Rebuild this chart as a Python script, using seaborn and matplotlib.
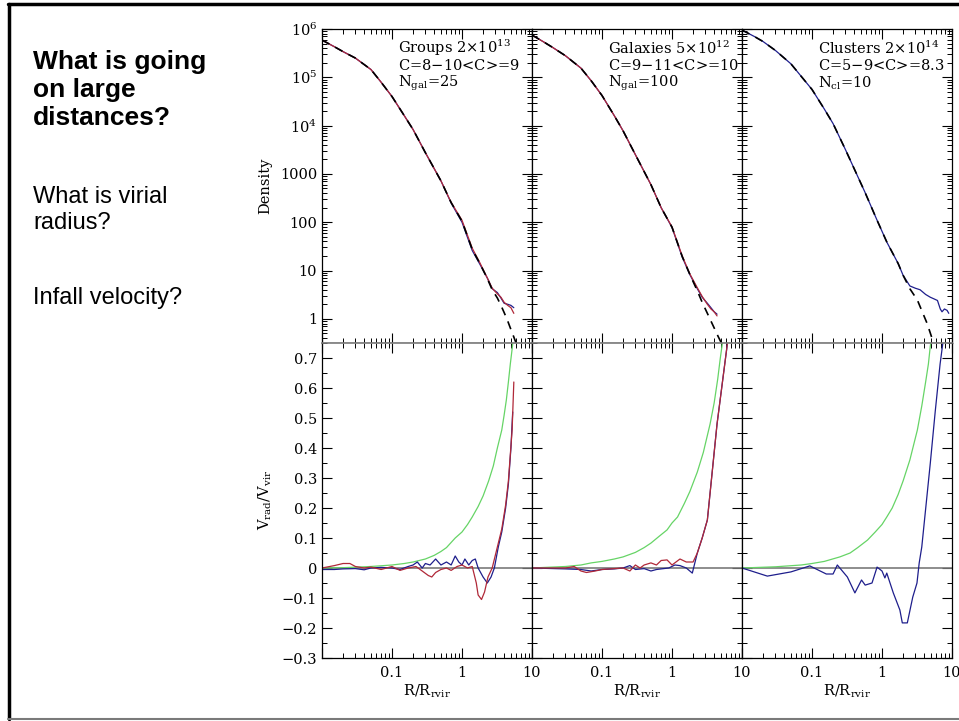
import numpy as np
import pandas as pd
import matplotlib
matplotlib.use("Agg")
import matplotlib.pyplot as plt
import seaborn as sns
from matplotlib.ticker import LogLocator, FixedLocator, FuncFormatter, MultipleLocator, NullFormatter
from matplotlib.lines import Line2D

# ---------------- data ----------------
panel_titles = ["Groups 2$\\times$10$^{13}$", "Galaxies 5$\\times$10$^{12}$", "Clusters 2$\\times$10$^{14}$"]
panel_conc = ["C=8$-$10<C>=9", "C=9$-$11<C>=10", "C=5$-$9<C>=8.3"]
panel_n = ["N$_{\\rm gal}$=25", "N$_{\\rm gal}$=100", "N$_{\\rm cl}$=10"]

# top row: density profiles
g_den_x = [0.01, 0.015, 0.02, 0.03, 0.05, 0.07, 0.1, 0.15, 0.2, 0.3, 0.5, 0.7, 1.0, 1.4, 1.8, 2.3, 2.7, 3.2, 3.6, 4.0, 4.5, 5.0, 5.5]
g_den_red = [5.9e5, 4.3e5, 3.4e5, 2.5e5, 1.45e5, 7.9e4, 4.0e4, 1.6e4, 8.3e3, 2.75e3, 720, 257, 110, 29, 14.5, 7.0, 4.3, 3.3, 2.8, 2.2, 1.9, 1.7, 1.3]
g_den_blue = [5.9e5, 4.3e5, 3.4e5, 2.5e5, 1.45e5, 7.9e4, 4.0e4, 1.6e4, 8.3e3, 2.75e3, 720, 250, 100, 26, 13.5, 7.0, 4.2, 3.5, 2.7, 2.1, 2.0, 1.9, 1.7]
g_nfw_x = [0.01, 0.015, 0.02, 0.03, 0.05, 0.07, 0.1, 0.15, 0.2, 0.3, 0.5, 0.7, 1.0, 1.4, 1.8, 2.3, 2.7, 3.2, 3.6, 4.0, 4.5, 5.0, 5.5, 6.0, 6.5]
g_nfw = [5.9e5, 4.3e5, 3.4e5, 2.5e5, 1.45e5, 7.9e4, 4.0e4, 1.6e4, 8.3e3, 2.75e3, 720, 255, 105, 27.5, 14, 6.8, 4.0, 2.7, 1.9, 1.35, 0.9, 0.6, 0.42, 0.3, 0.22]

s_den_x = [0.01, 0.015, 0.02, 0.03, 0.05, 0.07, 0.1, 0.15, 0.2, 0.3, 0.5, 0.7, 1.0, 1.4, 1.8, 2.3, 2.7, 3.2, 3.6, 4.0, 4.4]
s_den_red = [7.5e5, 5.3e5, 4.1e5, 2.8e5, 1.55e5, 8.5e4, 4.2e4, 1.6e4, 7.8e3, 2.5e3, 600, 200, 80, 20, 8.5, 4.4, 2.9, 2.0, 1.6, 1.4, 1.15]
s_den_blue = [7.5e5, 5.3e5, 4.1e5, 2.8e5, 1.55e5, 8.5e4, 4.2e4, 1.6e4, 7.8e3, 2.5e3, 600, 200, 78, 19, 8.2, 4.2, 2.8, 2.1, 1.7, 1.4, 1.25]
s_nfw_x = [0.01, 0.015, 0.02, 0.03, 0.05, 0.07, 0.1, 0.15, 0.2, 0.3, 0.5, 0.7, 1.0, 1.4, 1.8, 2.3, 2.7, 3.2, 3.6, 4.0, 4.5, 5.0, 5.5, 6.0]
s_nfw = [7.5e5, 5.3e5, 4.1e5, 2.8e5, 1.55e5, 8.5e4, 4.2e4, 1.6e4, 7.8e3, 2.5e3, 600, 200, 79, 19.5, 8.3, 3.8, 2.2, 1.3, 0.9, 0.65, 0.45, 0.33, 0.25, 0.19]

c_den_x = [0.01, 0.015, 0.02, 0.03, 0.05, 0.07, 0.1, 0.15, 0.2, 0.3, 0.57, 0.85, 1.18, 1.7, 2.0, 2.5, 3.0, 3.5, 4.2, 4.9, 5.5, 6.2, 6.8, 7.2, 7.8, 8.5, 9.0]
c_den_blue = [9.5e5, 7.0e5, 5.5e5, 3.6e5, 1.9e5, 1.05e5, 5.6e4, 2.2e4, 1.1e4, 3.2e3, 420, 110, 38, 14, 8.0, 4.8, 4.3, 4.0, 3.2, 2.8, 2.6, 2.4, 1.6, 1.4, 1.6, 1.5, 1.3]
c_nfw_x = [0.01, 0.015, 0.02, 0.03, 0.05, 0.07, 0.1, 0.15, 0.2, 0.3, 0.57, 0.85, 1.18, 1.7, 2.0, 2.5, 3.2, 4.4, 5.3, 5.8]
c_nfw = [9.5e5, 7.0e5, 5.5e5, 3.6e5, 1.9e5, 1.05e5, 5.6e4, 2.2e4, 1.1e4, 3.2e3, 420, 110, 38, 14, 8.0, 4.2, 2.45, 0.81, 0.36, 0.25]

# bottom row: radial velocity profiles
g_hub_x = [0.01, 0.02, 0.05, 0.1, 0.15, 0.2, 0.3, 0.4, 0.5, 0.6, 0.8, 1.0, 1.2, 1.4, 1.7, 2.0, 2.4, 2.8, 3.2, 3.7, 4.0, 4.3, 4.6, 4.9, 5.2, 5.5]
g_hub = [0.0, 0.001, 0.005, 0.01, 0.015, 0.02, 0.03, 0.042, 0.055, 0.068, 0.10, 0.12, 0.145, 0.17, 0.205, 0.24, 0.29, 0.34, 0.40, 0.46, 0.51, 0.56, 0.62, 0.68, 0.73, 0.78]
g_vel_red_x = [0.01, 0.015, 0.02, 0.025, 0.03, 0.04, 0.05, 0.07, 0.1, 0.13, 0.17, 0.22, 0.27, 0.33, 0.37, 0.42, 0.5, 0.6, 0.7, 0.85, 1.0, 1.2, 1.4, 1.6, 1.7, 1.9, 2.1, 2.35, 2.7, 3.2, 3.7, 4.2, 4.6, 5.2, 5.5]
g_vel_red = [0.0, 0.008, 0.015, 0.015, 0.005, 0.0, 0.003, -0.005, 0.005, -0.008, 0.0, 0.005, -0.01, -0.025, -0.03, -0.015, -0.005, 0.0, -0.008, 0.005, 0.01, 0.0, 0.005, -0.05, -0.09, -0.105, -0.08, -0.03, 0.0, 0.07, 0.13, 0.21, 0.29, 0.46, 0.62]
g_vel_blue_x = [0.01, 0.015, 0.02, 0.03, 0.04, 0.05, 0.07, 0.1, 0.13, 0.17, 0.2, 0.23, 0.27, 0.3, 0.35, 0.42, 0.5, 0.6, 0.7, 0.8, 0.9, 1.0, 1.1, 1.25, 1.4, 1.55, 1.7, 2.0, 2.3, 2.6, 2.9, 3.3, 3.7, 4.2, 4.6, 5.0, 5.3]
g_vel_blue = [-0.005, -0.005, -0.003, -0.002, -0.006, 0.0, 0.002, 0.0, -0.005, 0.005, 0.01, 0.02, 0.0, 0.015, 0.01, 0.03, 0.01, 0.02, 0.01, 0.04, 0.02, 0.01, 0.03, 0.01, 0.025, 0.03, 0.0, -0.03, -0.05, -0.03, 0.0, 0.07, 0.12, 0.2, 0.28, 0.4, 0.52]

s_hub_x = [0.01, 0.03, 0.05, 0.07, 0.1, 0.15, 0.2, 0.3, 0.4, 0.5, 0.65, 0.85, 1.0, 1.2, 1.5, 1.8, 2.3, 2.8, 3.5, 4.0, 4.5, 4.9, 5.4]
s_hub = [0.0, 0.005, 0.01, 0.017, 0.022, 0.03, 0.037, 0.052, 0.068, 0.083, 0.105, 0.127, 0.15, 0.17, 0.215, 0.255, 0.32, 0.385, 0.48, 0.55, 0.63, 0.70, 0.77]
s_vel_red_x = [0.01, 0.03, 0.04, 0.05, 0.06, 0.08, 0.1, 0.15, 0.2, 0.25, 0.3, 0.35, 0.4, 0.5, 0.6, 0.7, 0.85, 1.0, 1.3, 1.6, 2.0, 2.3, 2.7, 3.2, 4.4, 6.2]
s_vel_red = [0.0, 0.0, 0.005, -0.01, -0.015, -0.01, -0.005, -0.002, 0.0, -0.01, 0.01, 0.0, 0.01, 0.017, 0.01, 0.025, 0.027, 0.01, 0.03, 0.02, 0.02, 0.05, 0.10, 0.16, 0.48, 0.75]
s_vel_blue_x = [0.01, 0.03, 0.05, 0.07, 0.1, 0.15, 0.2, 0.25, 0.3, 0.4, 0.5, 0.6, 0.7, 0.9, 1.1, 1.3, 1.6, 1.95, 2.3, 2.7, 3.2, 4.4, 6.2]
s_vel_blue = [0.0, -0.003, -0.005, -0.01, -0.005, -0.003, 0.0, 0.008, -0.005, -0.002, -0.01, -0.005, -0.003, 0.0, 0.01, 0.008, 0.0, -0.017, 0.05, 0.10, 0.16, 0.48, 0.75]

c_hub_x = [0.01, 0.03, 0.07, 0.1, 0.15, 0.25, 0.35, 0.45, 0.62, 0.8, 1.0, 1.17, 1.4, 1.7, 2.0, 2.5, 3.2, 3.7, 4.2, 4.6, 4.9, 5.3]
c_hub = [0.0, 0.004, 0.01, 0.015, 0.022, 0.037, 0.05, 0.068, 0.093, 0.12, 0.145, 0.17, 0.20, 0.245, 0.29, 0.36, 0.46, 0.54, 0.62, 0.68, 0.74, 0.80]
c_vel_blue_x = [0.01, 0.023, 0.05, 0.093, 0.16, 0.2, 0.23, 0.32, 0.41, 0.51, 0.575, 0.72, 0.85, 1.0, 1.1, 1.17, 1.45, 1.8, 1.95, 2.3, 2.75, 3.16, 3.4, 3.7, 4.9, 5.75, 6.76, 7.4, 8.0]
c_vel_blue = [0.0, -0.027, -0.013, 0.007, -0.02, -0.02, 0.01, -0.03, -0.083, -0.04, -0.057, -0.05, 0.003, -0.01, -0.033, -0.017, -0.083, -0.14, -0.183, -0.183, -0.097, -0.05, 0.017, 0.07, 0.35, 0.52, 0.68, 0.75, 0.85]

den_ticks = [1, 10, 100, 1000, 1e4, 1e5, 1e6]
den_ticklabels = ["1", "10", "100", "1000", "10$^4$", "10$^5$", "10$^6$"]
r_ticks = [0.01, 0.1, 1, 10]
r_ticklabels = ["", "0.1", "1", "10"]

# ---------------- styling ----------------
sns.set_style("ticks")
plt.rcParams["font.family"] = ["DejaVu Serif"]
plt.rcParams["mathtext.fontset"] = "dejavuserif"
plt.rcParams["text.color"] = "black"
plt.rcParams["axes.labelcolor"] = "black"
plt.rcParams["xtick.color"] = "black"
plt.rcParams["ytick.color"] = "black"
plt.rcParams["axes.edgecolor"] = "black"

RED = "#b02838"
BLUE = "#1e1e8c"
GREEN = "#66d466"
GREY = "#7a7a7a"

W, H = 959, 721
fig = plt.figure(figsize=(W / 100, H / 100), dpi=100)
fig.patch.set_facecolor("white")

def fx(px):
    return px / W

def fy(py):
    return 1 - py / H

lefts = [322, 532, 742]
pw = 210
top_y0, top_y1 = 29, 343
bot_y0, bot_y1 = 343, 658

top_data = [
    [(g_den_x, g_den_blue, BLUE), (g_den_x, g_den_red, RED)],
    [(s_den_x, s_den_blue, BLUE), (s_den_x, s_den_red, RED)],
    [(c_den_x, c_den_blue, BLUE)],
]
top_nfw = [(g_nfw_x, g_nfw), (s_nfw_x, s_nfw), (c_nfw_x, c_nfw)]
bot_data = [
    [(g_vel_blue_x, g_vel_blue, BLUE), (g_vel_red_x, g_vel_red, RED)],
    [(s_vel_blue_x, s_vel_blue, BLUE), (s_vel_red_x, s_vel_red, RED)],
    [(c_vel_blue_x, c_vel_blue, BLUE)],
]
bot_hub = [(g_hub_x, g_hub), (s_hub_x, s_hub), (c_hub_x, c_hub)]

tick_kw = dict(direction="in", top=True, right=True, colors="black", labelsize=10.5)

def style_x(ax, labels):
    ax.set_xscale("log")
    ax.set_xlim(0.01, 10)
    ax.xaxis.set_major_locator(FixedLocator(r_ticks))
    ax.xaxis.set_minor_locator(LogLocator(base=10, subs=np.arange(2, 10), numticks=100))
    ax.xaxis.set_minor_formatter(NullFormatter())
    if labels:
        ax.xaxis.set_major_formatter(FuncFormatter(lambda v, p: r_ticklabels[r_ticks.index(v)] if v in r_ticks else ""))
    else:
        ax.set_xticklabels([])

for i in range(3):
    # ---- top: density ----
    ax = fig.add_axes([fx(lefts[i]), fy(top_y1), pw / W, (top_y1 - top_y0) / H])
    style_x(ax, False)
    ax.set_yscale("log")
    ax.set_ylim(10 ** -0.5, 1e6)
    for xs, ys, col in top_data[i]:
        sns.lineplot(x=xs, y=ys, ax=ax, color=col, lw=0.9, estimator=None, sort=False)
    nx, ny = top_nfw[i]
    sns.lineplot(x=nx, y=ny, ax=ax, color="black", lw=1.2, linestyle=(0, (5, 4)), estimator=None, sort=False)
    ax.yaxis.set_major_locator(FixedLocator(den_ticks))
    ax.yaxis.set_minor_locator(LogLocator(base=10, subs=np.arange(2, 10), numticks=100))
    ax.yaxis.set_minor_formatter(NullFormatter())
    if i == 0:
        ax.set_yticks(den_ticks, den_ticklabels)
    else:
        ax.set_yticklabels([])
    ax.tick_params(which="major", length=7, width=0.8, **tick_kw)
    ax.tick_params(which="minor", length=3.5, width=0.7, direction="in", top=True, right=True)
    for s in ax.spines.values():
        s.set_linewidth(0.9)
    ax.set_xlabel("")
    ax.set_ylabel("")
    # annotation
    tx = lefts[i] + 76
    fig.text(fx(tx), fy(48), panel_titles[i], fontsize=10.5, va="center", ha="left")
    fig.text(fx(tx), fy(66), panel_conc[i], fontsize=10.5, va="center", ha="left")
    fig.text(fx(tx), fy(83), panel_n[i], fontsize=10.5, va="center", ha="left")

    # ---- bottom: velocity ----
    axb = fig.add_axes([fx(lefts[i]), fy(bot_y1), pw / W, (bot_y1 - bot_y0) / H])
    style_x(axb, True)
    axb.set_ylim(-0.3, 0.75)
    axb.axhline(0, color=GREY, lw=1.2, zorder=1)
    hx, hy = bot_hub[i]
    sns.lineplot(x=hx, y=hy, ax=axb, color=GREEN, lw=0.9, estimator=None, sort=False)
    for xs, ys, col in bot_data[i]:
        sns.lineplot(x=xs, y=ys, ax=axb, color=col, lw=0.9, estimator=None, sort=False)
    axb.yaxis.set_major_locator(MultipleLocator(0.1))
    axb.yaxis.set_minor_locator(MultipleLocator(0.05))
    if i == 0:
        axb.yaxis.set_major_formatter(FuncFormatter(
            lambda v, p: "0" if abs(v) < 1e-9 else ("%.1f" % v).replace("-", "\u2212")))
    else:
        axb.set_yticklabels([])
    axb.tick_params(which="major", length=7, width=0.8, **tick_kw)
    axb.tick_params(which="minor", length=3.5, width=0.7, direction="in", top=True, right=True)
    axb.tick_params(axis="x", pad=6)
    for s in axb.spines.values():
        s.set_linewidth(0.9)
    axb.spines["top"].set_color(GREY)
    axb.spines["top"].set_linewidth(1.2)
    axb.set_xlabel("")
    axb.set_ylabel("")
    fig.text(fx(lefts[i] + pw / 2), fy(691), "R/R$_{\\rm rvir}$", fontsize=10.5, ha="center", va="center")

fig.text(fx(265), fy(186), "Density", fontsize=10.5, rotation=90, ha="center", va="center")
fig.text(fx(265), fy(500), "V$_{\\rm rad}$/V$_{\\rm vir}$", fontsize=10.5, rotation=90, ha="center", va="center")

# left-hand slide text
sans = ["Liberation Sans", "DejaVu Sans"]
for k, line in enumerate(["What is going", "on large", "distances?"]):
    fig.text(fx(33), fy(62 + 28 * k), line, fontsize=19, fontweight="bold", family=sans,
             color="black", ha="left", va="center")
fig.text(fx(33), fy(197), "What is virial", fontsize=17, family=sans, color="black", ha="left", va="center")
fig.text(fx(33), fy(223), "radius?", fontsize=17, family=sans, color="black", ha="left", va="center")
fig.text(fx(33), fy(298), "Infall velocity?", fontsize=17, family=sans, color="black", ha="left", va="center")

# slide frame
fig.add_artist(Line2D([fx(9), fx(9)], [fy(4), fy(719)], color="black", lw=2.5))
fig.add_artist(Line2D([fx(8), fx(959)], [fy(4), fy(4)], color="black", lw=2.5))
fig.add_artist(Line2D([fx(8), fx(959)], [fy(719), fy(719)], color=GREY, lw=1.5))

fig.savefig("out.png", dpi=100)
